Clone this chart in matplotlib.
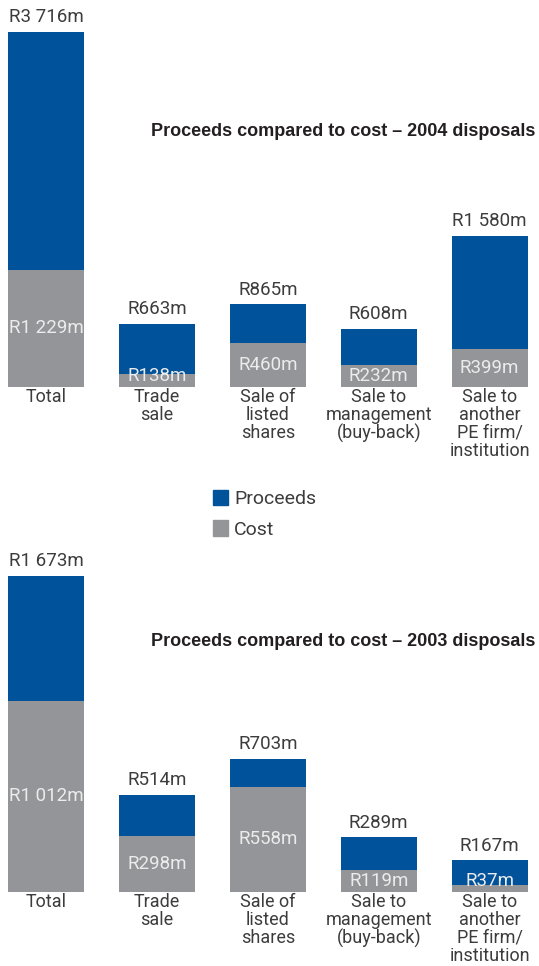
import matplotlib
matplotlib.use("Agg")
import matplotlib.pyplot as plt
from matplotlib.patches import Patch

# disposal routes and the rand values (millions) for each year
categories = ["Total", "Trade\nsale", "Sale of\nlisted\nshares",
              "Sale to\nmanagement\n(buy-back)", "Sale to\nanother\nPE firm/\ninstitution"]

proceeds_2004 = [3716, 663, 865, 608, 1580]
cost_2004 = [1229, 138, 460, 232, 399]

proceeds_2003 = [1673, 514, 703, 289, 167]
cost_2003 = [1012, 298, 558, 119, 37]

BLUE = "#00529b"
GREY = "#939598"
TEXT = "#3c3c3c"
FONT = ["Roboto", "DejaVu Sans"]
TITLE_FONT = ["Liberation Sans", "DejaVu Sans"]

plt.rcParams["font.family"] = FONT

fig = plt.figure(figsize=(5.39, 9.66), dpi=100)
W, H = 539.0, 966.0


def fmt(v):
    # South African style thousands separator (space)
    return "R" + f"{v:,}".replace(",", " ") + "m"


def draw_panel(baseline_px, top_px, proceeds, cost, title, title_y_px):
    ax = fig.add_axes([0, 1 - baseline_px / H, 1, (baseline_px - top_px) / H])
    step = 110.9  # px between bar centres
    ax.set_xlim(-46 / step, 4 + (W - 489.6) / step)
    ax.set_ylim(0, max(proceeds))
    ax.axis("off")
    x = list(range(len(categories)))
    width = 76 / step
    ax.bar(x, proceeds, width=width, color=BLUE, linewidth=0)
    ax.bar(x, cost, width=width, color=GREY, linewidth=0)

    px_per_unit = (baseline_px - top_px) / max(proceeds)
    for xi, p, c, cat in zip(x, proceeds, cost, categories):
        ax.annotate(fmt(p), (xi, p), xytext=(0, 7), textcoords="offset points",
                    ha="center", va="baseline", fontsize=13.5, color=TEXT)
        yc = max(c / 2, 11 / px_per_unit)
        ax.text(xi, yc, fmt(c), ha="center", va="center", fontsize=13.5,
                color="#ececec")
        ax.annotate(cat, (xi, 0), xytext=(0, -1), textcoords="offset points",
                    ha="center", va="top", fontsize=13, color=TEXT,
                    linespacing=0.98)

    fig.text(535 / W, 1 - title_y_px / H, title, ha="right", va="center",
             fontsize=13, fontweight="bold", color="#231f20",
             family=TITLE_FONT)


draw_panel(387, 32, proceeds_2004, cost_2004,
           "Proceeds compared to cost \u2013 2004 disposals", 131)
draw_panel(892, 576, proceeds_2003, cost_2003,
           "Proceeds compared to cost \u2013 2003 disposals", 641)

handles = [Patch(color=BLUE, label="Proceeds"), Patch(color=GREY, label="Cost")]
fig.legend(handles=handles, loc="upper left", bbox_to_anchor=(195 / W, 1 - 472 / H),
           frameon=False, handlelength=0.82, handleheight=0.82,
           handletextpad=0.3, labelspacing=0.65, labelcolor=TEXT,
           prop={"family": FONT, "size": 14})

fig.savefig("out.png", dpi=100)
